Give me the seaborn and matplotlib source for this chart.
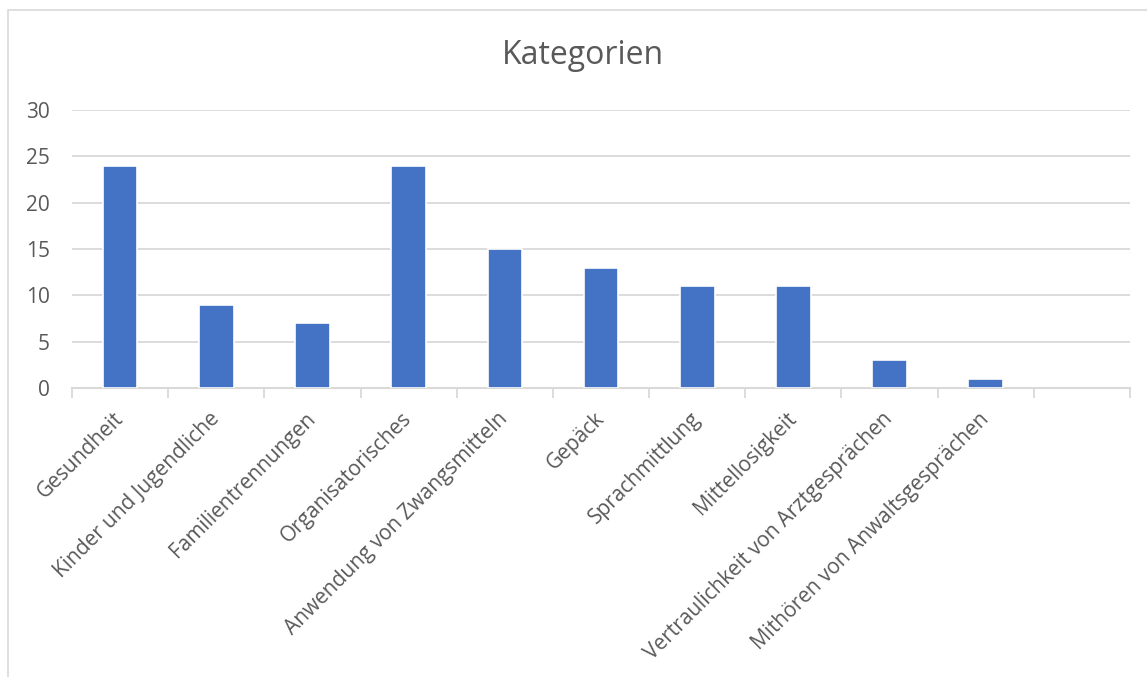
import matplotlib
matplotlib.use('Agg')
import matplotlib.pyplot as plt
import numpy as np
import pandas as pd
import seaborn as sns
from matplotlib.patches import Rectangle

sns.set_style('white')
plt.rcParams['font.family'] = ['Open Sans', 'DejaVu Sans']

categories = ['Gesundheit', 'Kinder und Jugendliche', 'Familientrennungen',
              'Organisatorisches', 'Anwendung von Zwangsmitteln', 'Gepäck',
              'Sprachmittlung', 'Mittellosigkeit',
              'Vertraulichkeit von Arztgesprächen',
              'Mithören von Anwaltsgesprächen']
counts = [24, 9, 7, 24, 15, 13, 11, 11, 3, 1]
y_ticks = [0, 5, 10, 15, 20, 25, 30]

df = pd.DataFrame({'Kategorie': categories, 'Anzahl': counts})

text_color = '#595959'
grid_color = '#d9d9d9'

fig = plt.figure(figsize=(11.47, 6.77), dpi=100)
ax = fig.add_axes([0.0628, 0.4269, 0.9224, 0.4106])

sns.barplot(data=df, x='Kategorie', y='Anzahl', color='#4472C4',
            width=0.36, saturation=1, edgecolor='white', linewidth=1.2,
            zorder=3, ax=ax)

n = len(categories) + 1  # Excel leaves one empty slot at the end
ax.set_xlim(-0.5, n - 0.5)
ax.set_ylim(0, 30)
ax.set_yticks(y_ticks)
ax.set_yticklabels([str(v) for v in y_ticks], fontsize=15, color=text_color)
ax.yaxis.grid(True, color=grid_color, linewidth=1.3, zorder=0)
ax.tick_params(axis='y', length=0, pad=16)

ax.set_xticks(range(len(categories)))
ax.set_xticklabels(categories, rotation=45, ha='right', va='center',
                   rotation_mode='anchor', fontsize=15, color=text_color)
ax.tick_params(axis='x', which='major', length=0, pad=20)
ax.set_xticks(np.arange(-0.5, n, 1.0), minor=True)
ax.tick_params(axis='x', which='minor', bottom=True, length=7, width=1.3,
               color=grid_color)

for side in ['top', 'right', 'left']:
    ax.spines[side].set_visible(False)
ax.spines['bottom'].set_color(grid_color)
ax.spines['bottom'].set_linewidth(1.5)

ax.set_xlabel('')
ax.set_ylabel('')
fig.text(0.508, 0.918, 'Kategorien', ha='center', va='center',
         fontsize=23, color=text_color)

fig.patches.append(Rectangle((0.007, -0.01), 1.0, 0.995, transform=fig.transFigure,
                             fill=False, edgecolor=grid_color, linewidth=1.2))

fig.savefig('out.png', dpi=100)
